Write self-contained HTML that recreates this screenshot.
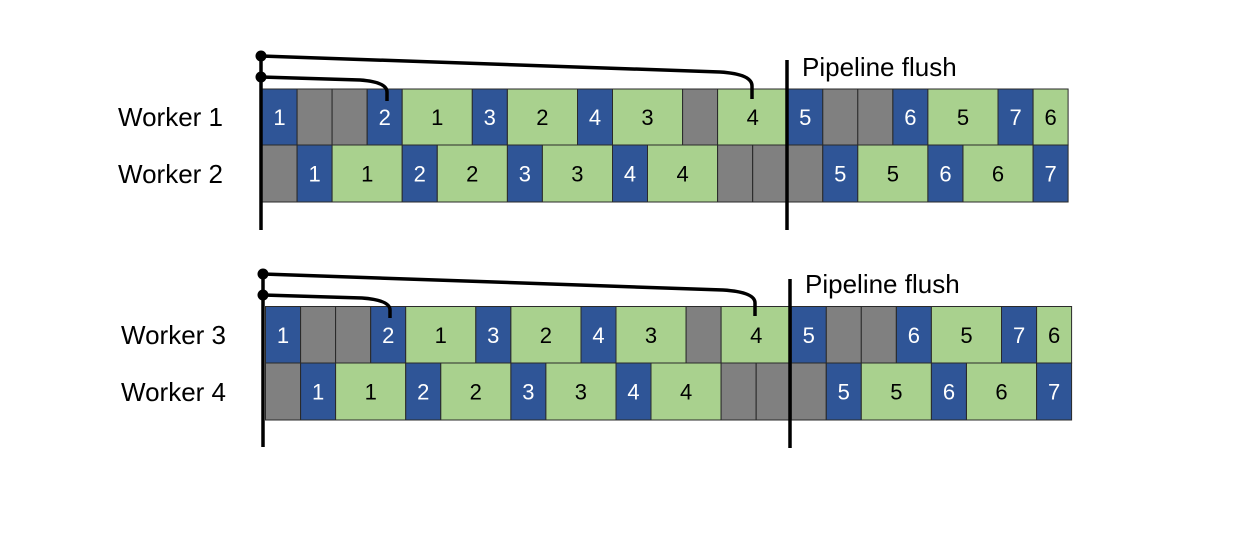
<!DOCTYPE html>
<html><head><meta charset="utf-8"><style>
html,body{margin:0;padding:0;background:#fff;width:1239px;height:547px;overflow:hidden}
svg{display:block}
text{font-family:"Liberation Sans",sans-serif}
</style></head><body>
<svg id="s" width="1239" height="547" viewBox="0 0 1239 547" xmlns="http://www.w3.org/2000/svg">
<text x="118" y="126" font-size="26">Worker 1</text>
<text x="118" y="183" font-size="26">Worker 2</text>
<text x="121" y="344" font-size="26">Worker 3</text>
<text x="121" y="401" font-size="26">Worker 4</text>
<text x="802" y="76" font-size="26">Pipeline flush</text>
<text x="805" y="293" font-size="26">Pipeline flush</text>
<g id="cells"></g>
<g stroke="#000" fill="none" stroke-width="3.5">
<line x1="261" y1="55" x2="261" y2="230"/>
<line x1="787" y1="60" x2="787" y2="230"/>
<path d="M261 56 L720 72 Q752 74 752 86 L752 99"/>
<path d="M261 77 L360 80 Q387 82 387 92 L387 101"/>
<line x1="263" y1="272" x2="263" y2="447"/>
<line x1="790" y1="279" x2="790" y2="448"/>
<path d="M263 274 L723 290 Q755 292 755 303 L755 316"/>
<path d="M263 295 L362 298 Q390 300 390 310 L390 318"/>
</g>
<g fill="#000">
<circle cx="261" cy="56" r="5.5"/><circle cx="261" cy="77" r="5.5"/>
<circle cx="263" cy="274" r="5.5"/><circle cx="263" cy="295" r="5.5"/>
</g>
</svg>
<script>
var u=35.05;
var r1=[['b',1,'1'],['g',1,''],['g',1,''],['b',1,'2'],['l',2,'1'],['b',1,'3'],['l',2,'2'],['b',1,'4'],['l',2,'3'],['g',1,''],['l',2,'4'],['b',1,'5'],['g',1,''],['g',1,''],['b',1,'6'],['l',2,'5'],['b',1,'7'],['l',1,'6']];
var r2=[['g',1,''],['b',1,'1'],['l',2,'1'],['b',1,'2'],['l',2,'2'],['b',1,'3'],['l',2,'3'],['b',1,'4'],['l',2,'4'],['g',1,''],['g',1,''],['g',1,''],['b',1,'5'],['l',2,'5'],['b',1,'6'],['l',2,'6'],['b',1,'7']];
var col={b:'#2f5597',g:'#808080',l:'#a9d18e'};
var h='';
function row(r,x0,y0,hh){var x=x0;r.forEach(function(c){var w=c[1]*u;
h+='<rect x="'+x.toFixed(1)+'" y="'+y0+'" width="'+w.toFixed(1)+'" height="'+hh+'" fill="'+col[c[0]]+'" stroke="#2a2a2a" stroke-width="1"/>';
if(c[2])h+='<text x="'+(x+w/2).toFixed(1)+'" y="'+(y0+hh/2+8)+'" font-size="22" text-anchor="middle" fill="'+(c[0]=='b'?'#fff':'#000')+'">'+c[2]+'</text>';
x+=w;});}
row(r1,262,89,56);row(r2,262,145,57);
row(r1,265.5,306.5,56.5);row(r2,265.5,363,57);
document.getElementById('cells').innerHTML=h;
</script>
</body></html>
